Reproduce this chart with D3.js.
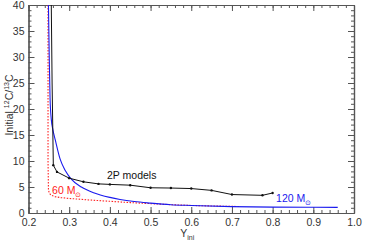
<!DOCTYPE html>
<html>
<head>
<meta charset="utf-8">
<script src="https://cdn.jsdelivr.net/npm/d3@7"></script>
<style>
  body { margin: 0; background: #fff; }
  svg { display: block; font-family: "Liberation Sans", Arial, sans-serif; }
  .axis path, .axis line { stroke: #555; }
  .axis text { fill: #333; font-size: 10.5px; font-family: "Liberation Sans", Arial, sans-serif; }
</style>
</head>
<body>
<div id="chart"></div>
<script>
// 2P models (black, with markers)
const twoPY = [0.256, 0.258, 0.261, 0.270, 0.300, 0.335, 0.372, 0.400, 0.450, 0.500, 0.550, 0.600, 0.650, 0.700, 0.775, 0.800];
const twoPC = [40, 25, 9.2, 7.9, 6.7, 6.0, 5.6, 5.5, 5.35, 4.85, 4.8, 4.7, 4.35, 3.55, 3.4, 3.85];
const twoPMarked = [false, false, true, true, true, true, true, true, true, true, true, true, true, true, true, true];

// 120 Msun (blue)
const blueY = [0.249, 0.251, 0.253, 0.256, 0.260, 0.266, 0.278, 0.290, 0.304, 0.330, 0.360, 0.400, 0.425, 0.460, 0.500, 0.550, 0.600, 0.700, 0.800, 0.900, 0.960];
const blueC = [40, 30, 22, 18, 16, 14, 10.3, 8.2, 6.6, 5.0, 3.9, 3.0, 2.6, 2.2, 1.9, 1.6, 1.45, 1.22, 1.13, 1.1, 1.08];

// 60 Msun (red dotted)
const redY = [0.248, 0.248, 0.249, 0.251, 0.256, 0.265, 0.280, 0.300, 0.350, 0.400, 0.450, 0.500, 0.550, 0.600, 0.650, 0.720];
const redC = [40, 10, 4.5, 3.8, 3.4, 3.15, 2.95, 2.8, 2.5, 2.25, 2.0, 1.8, 1.6, 1.45, 1.35, 1.25];

const xTicks = [0.2, 0.3, 0.4, 0.5, 0.6, 0.7, 0.8, 0.9, 1.0];
const yTicks = [0, 5, 10, 15, 20, 25, 30, 35, 40];

const W = 366, H = 242;
const m = { left: 28.5, right: 12, top: 5, bottom: 29 };
const iw = W - m.left - m.right, ih = H - m.top - m.bottom;

const svg = d3.select("#chart").append("svg").attr("width", W).attr("height", H);
const g = svg.append("g").attr("transform", `translate(${m.left},${m.top})`);

const x = d3.scaleLinear().domain([0.2, 1.0]).range([0, iw]);
const y = d3.scaleLinear().domain([0, 40]).range([ih, 0]);

const xMinor = d3.range(0.2, 1.0001, 0.02);
const yMinor = d3.range(0, 40.001, 1);

// minor ticks (all four sides)
g.append("g").attr("class", "axis").attr("transform", `translate(0,${ih})`)
  .call(d3.axisBottom(x).tickValues(xMinor).tickSize(-3).tickSizeOuter(0).tickFormat(""));
g.append("g").attr("class", "axis")
  .call(d3.axisTop(x).tickValues(xMinor).tickSize(-3).tickSizeOuter(0).tickFormat(""));
g.append("g").attr("class", "axis")
  .call(d3.axisLeft(y).tickValues(yMinor).tickSize(-3).tickSizeOuter(0).tickFormat(""));
g.append("g").attr("class", "axis").attr("transform", `translate(${iw},0)`)
  .call(d3.axisRight(y).tickValues(yMinor).tickSize(-3).tickSizeOuter(0).tickFormat(""));

// major ticks
g.append("g").attr("class", "axis").attr("transform", `translate(0,${ih})`)
  .call(d3.axisBottom(x).tickValues(xTicks).tickSize(-6).tickSizeOuter(0).tickPadding(6).tickFormat(d3.format(".1f")));
g.append("g").attr("class", "axis")
  .call(d3.axisTop(x).tickValues(xTicks).tickSize(-6).tickSizeOuter(0).tickFormat(""));
g.append("g").attr("class", "axis")
  .call(d3.axisLeft(y).tickValues(yTicks).tickSize(-6).tickSizeOuter(0).tickPadding(4).tickFormat(d3.format("d")));
g.append("g").attr("class", "axis").attr("transform", `translate(${iw},0)`)
  .call(d3.axisRight(y).tickValues(yTicks).tickSize(-6).tickSizeOuter(0).tickFormat(""));

g.selectAll(".axis path").attr("stroke-width", 1.2);

const clip = g.append("clipPath").attr("id", "clip").append("rect")
  .attr("width", iw).attr("height", ih);
const plot = g.append("g").attr("clip-path", "url(#clip)");

const line = d3.line().x(d => x(d[0])).y(d => y(d[1]));

plot.append("path").datum(d3.zip(redY, redC))
  .attr("d", line).attr("fill", "none").attr("stroke", "#ff2020")
  .attr("stroke-width", 1.1).attr("stroke-dasharray", "1.5,1.5");

plot.append("path").datum(d3.zip(blueY, blueC))
  .attr("d", d3.line().curve(d3.curveMonotoneX).x(d => x(d[0])).y(d => y(d[1])))
  .attr("fill", "none").attr("stroke", "#1a1aee").attr("stroke-width", 1.1);

const twoP = d3.zip(twoPY, twoPC, twoPMarked);
plot.append("path").datum(twoP)
  .attr("d", line).attr("fill", "none").attr("stroke", "#111").attr("stroke-width", 1);
plot.selectAll("circle.m").data(twoP.filter(d => d[2])).enter().append("circle")
  .attr("class", "m").attr("cx", d => x(d[0])).attr("cy", d => y(d[1]))
  .attr("r", 1.2).attr("fill", "#111");

// labels
g.append("text").attr("x", x(0.393)).attr("y", y(5.6) - 5)
  .attr("font-size", 10.5).attr("fill", "#111").text("2P models");

const l60 = g.append("text").attr("x", x(0.258)).attr("y", y(4.5) + 4.5)
  .attr("font-size", 10.5).attr("fill", "#ff2020");
l60.append("tspan").text("60 M");
l60.append("tspan").attr("font-size", 7).attr("dy", 2.5).text("\u2299");

const l120 = g.append("text").attr("x", x(0.8085)).attr("y", y(1.08) - 5)
  .attr("font-size", 10.5).attr("fill", "#1a1aee");
l120.append("tspan").text("120 M");
l120.append("tspan").attr("font-size", 7).attr("dy", 2.5).text("\u2299");

// axis titles
const xt = svg.append("text").attr("x", m.left + x(0.6) - 4).attr("y", 237)
  .attr("font-size", 10.5).attr("fill", "#333").attr("text-anchor", "middle");
xt.append("tspan").text("Y");
xt.append("tspan").attr("font-size", 7).attr("dy", 2.5).text("ini");

const yt = svg.append("text")
  .attr("transform", `translate(13,${m.top + y(20) - 4}) rotate(-90)`)
  .attr("font-size", 10.5).attr("fill", "#333").attr("text-anchor", "middle");
yt.append("tspan").text("Initial ");
yt.append("tspan").attr("font-size", 7).attr("dy", -4).text("12");
yt.append("tspan").attr("dy", 4).text("C/");
yt.append("tspan").attr("font-size", 7).attr("dy", -4).text("13");
yt.append("tspan").attr("dy", 4).text("C");
</script>
</body>
</html>
